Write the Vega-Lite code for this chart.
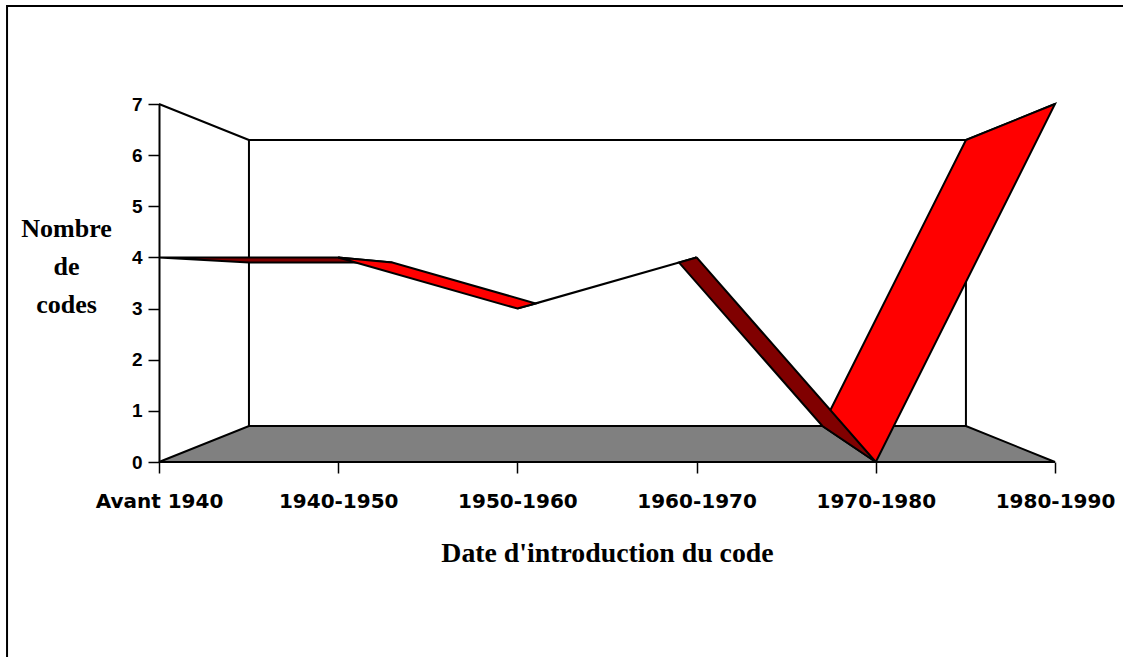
{
"$schema":"https://vega.github.io/schema/vega-lite/v6.json",
"autosize":{"type":"none"},
"padding":{"left":159,"top":104,"right":68,"bottom":195},
"width":896,"height":358,
"background":"white",
"config":{"view":{"stroke":null}},
"data":{"values":[
{"part":"cadre","seq":0,"x":-0.848,"y":-3.813},
{"part":"cadre","seq":1,"x":-0.848,"y":8.917},
{"part":"cadre","seq":2,"x":5.38,"y":8.917},
{"part":"fond","seq":0,"x":0.502,"y":0.704},
{"part":"fond","seq":1,"x":0.502,"y":6.296},
{"part":"fond","seq":2,"x":4.503,"y":6.296},
{"part":"fond","seq":3,"x":4.503,"y":0.704},
{"part":"gauche","seq":0,"x":0,"y":7},
{"part":"gauche","seq":1,"x":0.502,"y":6.296},
{"part":"droite","seq":0,"x":5,"y":7},
{"part":"droite","seq":1,"x":4.503,"y":6.296},
{"part":"sol","seq":0,"x":0,"y":0},
{"part":"sol","seq":1,"x":5,"y":0},
{"part":"sol","seq":2,"x":4.503,"y":0.704},
{"part":"sol","seq":3,"x":0.502,"y":0.704},
{"part":"sol","seq":4,"x":0,"y":0},
{"part":"s0","seq":0,"x":0,"y":4},
{"part":"s0","seq":1,"x":1,"y":4},
{"part":"s0","seq":2,"x":1.302,"y":3.9},
{"part":"s0","seq":3,"x":0.502,"y":3.9},
{"part":"s0","seq":4,"x":0,"y":4},
{"part":"s1","seq":0,"x":1,"y":4},
{"part":"s1","seq":1,"x":2,"y":3},
{"part":"s1","seq":2,"x":2.102,"y":3.1},
{"part":"s1","seq":3,"x":1.302,"y":3.9},
{"part":"s1","seq":4,"x":1,"y":4},
{"part":"s2","seq":0,"x":2,"y":3},
{"part":"s2","seq":1,"x":3,"y":4},
{"part":"s2","seq":2,"x":2.902,"y":3.9},
{"part":"s2","seq":3,"x":2.102,"y":3.1},
{"part":"s2","seq":4,"x":2,"y":3},
{"part":"s3","seq":0,"x":3,"y":4},
{"part":"s3","seq":1,"x":4,"y":0},
{"part":"s3","seq":2,"x":3.702,"y":0.704},
{"part":"s3","seq":3,"x":2.902,"y":3.9},
{"part":"s3","seq":4,"x":3,"y":4},
{"part":"s4","seq":0,"x":4,"y":0},
{"part":"s4","seq":1,"x":5,"y":7},
{"part":"s4","seq":2,"x":4.503,"y":6.296},
{"part":"s4","seq":3,"x":3.702,"y":0.704},
{"part":"s4","seq":4,"x":4,"y":0}
]},
"encoding":{
"x":{"field":"x","type":"quantitative","scale":{"domain":[0,5],"nice":false,"zero":false}},
"y":{"field":"y","type":"quantitative","scale":{"domain":[0,7],"nice":false,"zero":false}},
"order":{"field":"seq"},
"detail":{"field":"part"}
},
"layer":[
{"transform":[{"filter":"datum.part=='cadre'||datum.part=='fond'||datum.part=='gauche'||datum.part=='droite'"}],
 "mark":{"type":"line","stroke":"black","strokeWidth":2,"clip":false},
 "encoding":{
 "x":{"field":"x","type":"quantitative","scale":{"domain":[0,5],"nice":false,"zero":false},
  "axis":{"values":[0,1,2,3,4,5],"grid":false,"domain":false,"tickColor":"black","tickSize":11,"tickWidth":1.5,"labelExpr":"['Avant 1940','1940-1950','1950-1960','1960-1970','1970-1980','1980-1990'][datum.value]","labelFont":"DejaVu Sans","labelFontWeight":"bold","labelFontSize":20,"labelColor":"black","labelPadding":18,"labelOverlap":false,"labelFlush":false,"labelBound":false,
  "title":"Date d'introduction du code","titleFont":"Liberation Serif","titleFontWeight":"bold","titleFontSize":27.8,"titleColor":"black","titlePadding":28}},
 "y":{"field":"y","type":"quantitative","scale":{"domain":[0,7],"nice":false,"zero":false},
  "axis":{"values":[0,1,2,3,4,5,6,7],"grid":false,"domainColor":"black","domainWidth":2,"tickColor":"black","tickSize":11,"tickWidth":1.5,"labelFont":"Liberation Sans","labelFontWeight":"bold","labelFontSize":19,"labelColor":"black","labelPadding":6,"labelBound":false,"labelFlush":false,
  "title":["Nombre","de","codes"],"titleFont":"Liberation Serif","titleFontWeight":"bold","titleFontSize":26,"titleColor":"black","titleAngle":0,"titleAlign":"center","titleBaseline":"alphabetic","titleLineHeight":38,"titleX":-93,"titleY":132}}
 }},
{"transform":[{"filter":"datum.part=='sol'"}],"mark":{"type":"line","stroke":"black","strokeWidth":2,"fill":"#808080"}},
{"transform":[{"filter":"datum.part=='s0'||datum.part=='s2'"}],"mark":{"type":"line","stroke":"black","strokeWidth":2,"fill":"#800000"}},
{"transform":[{"filter":"datum.part=='s1'||datum.part=='s4'"}],"mark":{"type":"line","stroke":"black","strokeWidth":2,"fill":"#ff0000"}},
{"transform":[{"filter":"datum.part=='s3'"}],"mark":{"type":"line","stroke":"black","strokeWidth":2,"fill":"#800000"}}
]
}
